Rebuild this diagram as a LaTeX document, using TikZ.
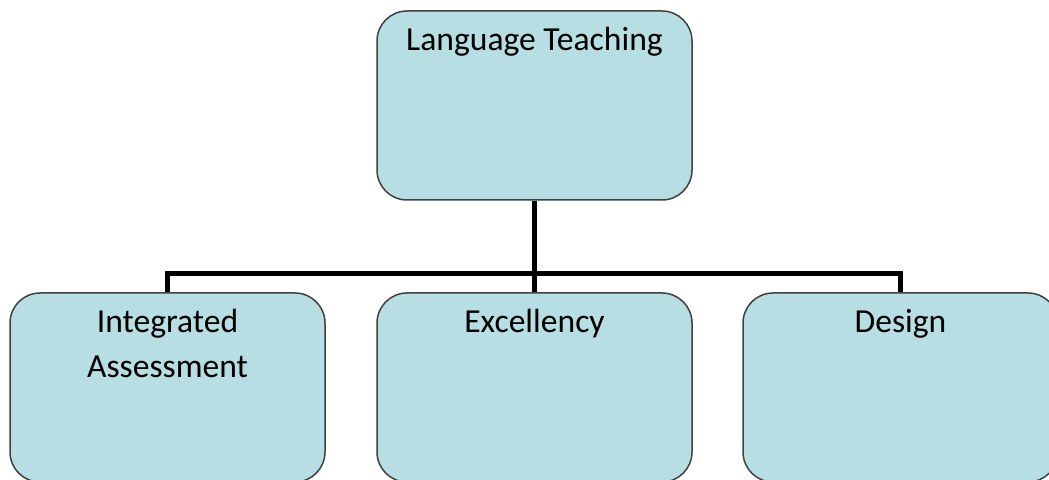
\documentclass[tikz,border=0pt]{standalone}
\usepackage{fontspec}
\setmainfont{Carlito}
\usepackage{xcolor}
\definecolor{unitfill}{RGB}{183,222,226}
\definecolor{unitline}{RGB}{64,64,64}

\begin{document}
\begin{tikzpicture}[x=0.5pt,y=-0.5pt]
%\draw[help lines] (0,0) grid (1049,480);
\tikzset{
unit/.style = {draw=unitline, line width=0.75pt, fill=unitfill,
  rounded corners=15pt, minimum width=157.5pt, minimum height=94.5pt,
  inner sep=0pt},
unittext/.style = {anchor=north, align=center, inner sep=0pt,
  font=\fontsize{16.8}{22.5}\selectfont, yshift=-8.2pt},
link/.style = {line width=2.5pt, black}
}
\useasboundingbox (0,0) rectangle (1049,480);

\node[unit] (lang) at (534.5,105.5) {};
\node[unit] (integ) at (167.5,387.5) {};
\node[unit] (excel) at (534.5,387.5) {};
\node[unit] (design) at (900.5,387.5) {};

\node[unittext] (lang-t) at (lang.north) {Language Teaching};
\node[unittext] (integ-t) at (integ.north) {Integrated\\Assessment};
\node[unittext] (excel-t) at (excel.north) {Excellency};
\node[unittext] (design-t) at (design.north) {Design};

\coordinate (split) at (534.5,274);
\draw[link] (lang.south) -- (excel.north);
\draw[link] (integ.north) |- (split) -| (design.north);
\end{tikzpicture}
\end{document}
